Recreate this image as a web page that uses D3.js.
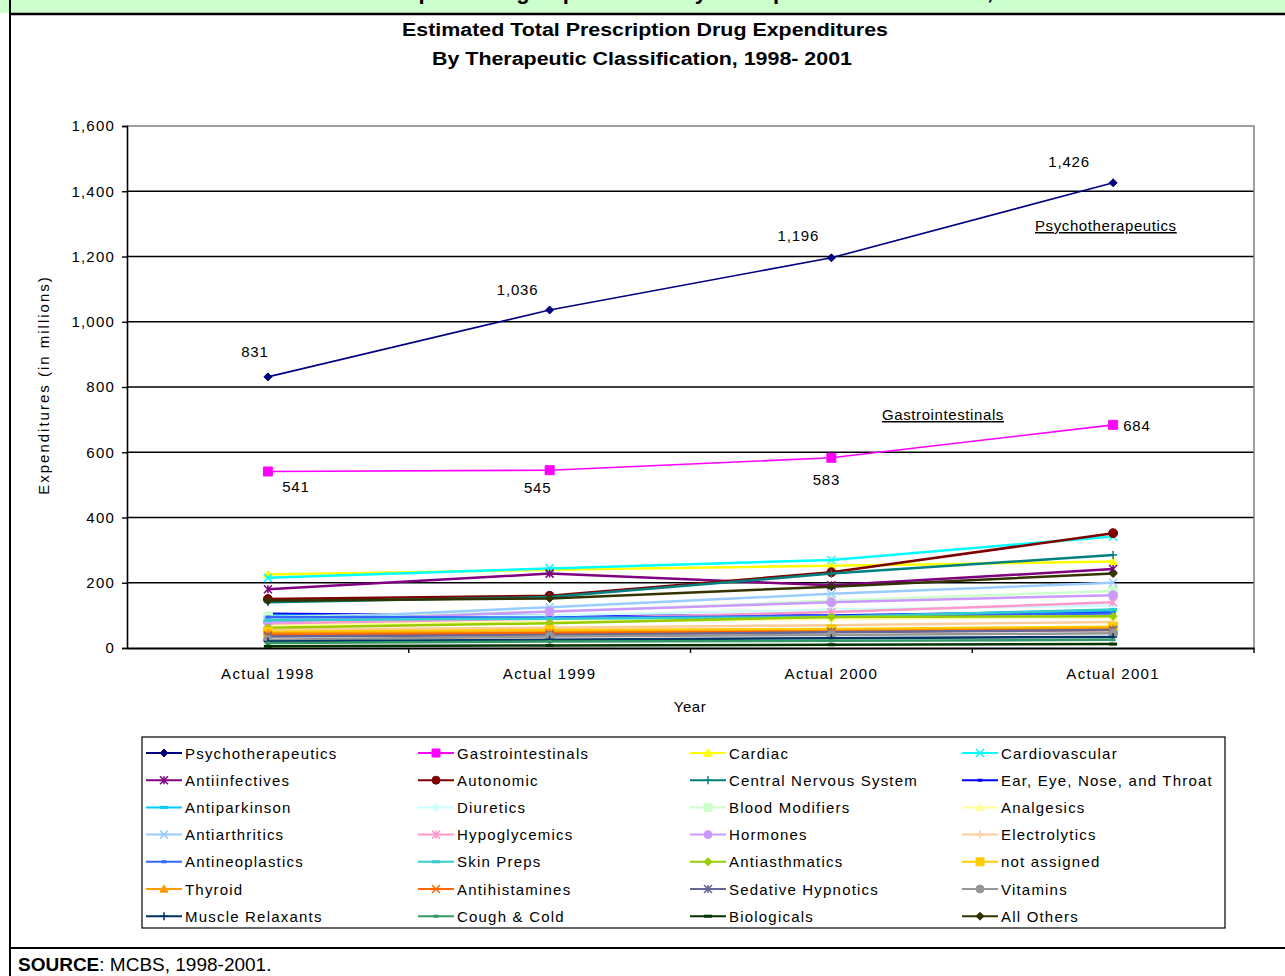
<!DOCTYPE html>
<html>
<head>
<meta charset="utf-8">
<script src="https://cdn.jsdelivr.net/npm/d3@7"></script>
<style>
  html, body { margin: 0; padding: 0; background: #fff; }
  svg { display: block; }
  text { font-family: Arial, "Liberation Sans", sans-serif; fill: #000; }
</style>
</head>
<body>
<svg id="chart" width="1285" height="976"></svg>
<script>
// ---- data ----
const categories = ["Actual 1998", "Actual 1999", "Actual 2000", "Actual 2001"];

const seriesNames = [
  "Psychotherapeutics", "Gastrointestinals", "Cardiac", "Cardiovascular",
  "Antiinfectives", "Autonomic", "Central Nervous System", "Ear, Eye, Nose, and Throat",
  "Antiparkinson", "Diuretics", "Blood Modifiers", "Analgesics",
  "Antiarthritics", "Hypoglycemics", "Hormones", "Electrolytics",
  "Antineoplastics", "Skin Preps", "Antiasthmatics", "not assigned",
  "Thyroid", "Antihistamines", "Sedative Hypnotics", "Vitamins",
  "Muscle Relaxants", "Cough & Cold", "Biologicals", "All Others"
];

// expenditures in millions, 1998-2001, same order as seriesNames
const seriesValues = [
  [831, 1036, 1196, 1426],
  [541, 545, 583, 684],
  [225, 240, 252, 265],
  [215, 244, 270, 342],
  [180, 228, 192, 242],
  [150, 160, 232, 352],
  [140, 156, 228, 285],
  [105, 98, 100, 112],
  [100, 92, 96, 116],
  [90, 100, 118, 130],
  [96, 110, 145, 175],
  [70, 80, 90, 95],
  [86, 125, 166, 200],
  [75, 90, 110, 140],
  [80, 112, 140, 162],
  [57, 62, 70, 80],
  [95, 93, 98, 106],
  [85, 90, 95, 118],
  [62, 76, 95, 97],
  [50, 55, 58, 65],
  [45, 48, 52, 60],
  [40, 45, 50, 55],
  [35, 40, 48, 55],
  [25, 35, 40, 45],
  [20, 25, 30, 34],
  [15, 20, 22, 25],
  [5, 8, 10, 12],
  [145, 152, 188, 228]
];

const yTicks = [0, 200, 400, 600, 800, 1000, 1200, 1400, 1600];

// series with printed values
const psychLabels = [831, 1036, 1196, 1426];
const gastroLabels = [541, 545, 583, 684];

// ---- styles ----
const colors = [
  "#000080", "#FF00FF", "#FFFF00", "#00FFFF", "#800080", "#800000", "#008080", "#0000FF",
  "#00CCFF", "#CCFFFF", "#CCFFCC", "#FFFF99", "#99CCFF", "#FF99CC", "#CC99FF", "#FFCC99",
  "#3366FF", "#33CCCC", "#99CC00", "#FFCC00", "#FF9900", "#FF6600", "#666699", "#969696",
  "#003366", "#339966", "#003300", "#333300"
];
const markerCycle = ["diamond", "square", "triangle", "x", "star", "circle", "plus", "dash", "longdash"];

function markerPath(type, s) {
  switch (type) {
    case "diamond": return `M0,${-s}L${s},0L0,${s}L${-s},0Z`;
    case "square": return `M${-s},${-s}H${s}V${s}H${-s}Z`;
    case "triangle": return `M0,${-s}L${s},${s * 0.8}L${-s},${s * 0.8}Z`;
    case "x": return `M${-s},${-s}L${s},${s}M${-s},${s}L${s},${-s}`;
    case "star": return `M${-s},${-s}L${s},${s}M${-s},${s}L${s},${-s}M0,${-s}V${s}`;
    case "circle": return d3.symbol(d3.symbolCircle, Math.PI * s * s)();
    case "plus": return `M${-s},0H${s}M0,${-s}V${s}`;
    case "dash": return `M${-s * 0.6},0H${s * 0.6}`;
    case "longdash": return `M${-s},0H${s}`;
  }
}
const filledMarkers = new Set(["diamond", "square", "triangle", "circle"]);

const svg = d3.select("#chart");

// ---- page frame: green caption band whose heading runs off the top ----
svg.append("rect").attr("x", 0).attr("y", 0).attr("width", 1285).attr("height", 13).attr("fill", "#CCFFCC");
const clip = svg.append("clipPath").attr("id", "headClip");
clip.append("rect").attr("x", 0).attr("y", 0).attr("width", 1285).attr("height", 13);
svg.append("text")
  .attr("clip-path", "url(#headClip)")
  .attr("x", 640).attr("y", -1)
  .attr("text-anchor", "middle")
  .style("font-size", "22px").style("font-weight", "bold")
  .text("Estimated Total Prescription Drug Expenditures by Therapeutic Classification, 1998-2001");
svg.append("line").attr("x1", 9).attr("x2", 1285).attr("y1", 14).attr("y2", 14).attr("stroke", "#000").attr("stroke-width", 2.5);
svg.append("line").attr("x1", 10).attr("x2", 10).attr("y1", 0).attr("y2", 976).attr("stroke", "#000").attr("stroke-width", 2);
svg.append("line").attr("x1", 9).attr("x2", 1285).attr("y1", 948).attr("y2", 948).attr("stroke", "#000").attr("stroke-width", 2);

const src = svg.append("text").attr("x", 18).attr("y", 971).style("font-size", "19px");
src.append("tspan").style("font-weight", "bold").text("SOURCE");
src.append("tspan").text(":  MCBS, 1998-2001.");

// ---- titles ----
svg.append("text").attr("x", 645).attr("y", 36).attr("text-anchor", "middle")
  .style("font-size", "18px").style("font-weight", "bold")
  .attr("textLength", 486).attr("lengthAdjust", "spacingAndGlyphs")
  .text("Estimated Total Prescription Drug Expenditures");
svg.append("text").attr("x", 642).attr("y", 65).attr("text-anchor", "middle")
  .style("font-size", "18px").style("font-weight", "bold")
  .attr("textLength", 420).attr("lengthAdjust", "spacingAndGlyphs")
  .text("By Therapeutic Classification, 1998- 2001");

// ---- scales ----
const plot = { left: 127, right: 1254, top: 126, bottom: 648 };
const x = d3.scaleBand().domain(categories).range([plot.left, plot.right]);
const cx = c => x(c) + x.bandwidth() / 2;
const y = d3.scaleLinear().domain([0, 1600]).range([plot.bottom, plot.top]);

// gridlines
svg.append("g").selectAll("line").data(yTicks.filter(d => d > 0 && d < 1600)).join("line")
  .attr("x1", plot.left).attr("x2", plot.right)
  .attr("y1", d => y(d)).attr("y2", d => y(d))
  .attr("stroke", "#000").attr("stroke-width", 1.6);

// plot area border (top and right)
svg.append("path")
  .attr("d", `M${plot.left},${plot.top}H${plot.right}V${plot.bottom}`)
  .attr("fill", "none").attr("stroke", "#808080").attr("stroke-width", 1.5);

// y axis
const yAxis = svg.append("g").attr("transform", `translate(${plot.left},0)`)
  .call(d3.axisLeft(y).tickValues(yTicks).tickFormat(d3.format(",")).tickSize(5).tickPadding(7));
yAxis.select(".domain").attr("stroke", "#000").attr("stroke-width", 1.6);
yAxis.selectAll(".tick line").attr("stroke", "#000").attr("stroke-width", 1.4);
yAxis.selectAll(".tick text")
  .style("font-size", "15px").style("letter-spacing", "1.2px")
  .style("font-family", "Arial, 'Liberation Sans', sans-serif").attr("fill", "#000");

// x axis: labels centred, ticks between categories
const xAxis = svg.append("g").attr("transform", `translate(0,${plot.bottom})`)
  .call(d3.axisBottom(x).tickSize(0).tickPadding(20));
xAxis.select(".domain").attr("stroke", "#000").attr("stroke-width", 1.8);
xAxis.selectAll(".tick text")
  .style("font-size", "15px").style("letter-spacing", "1.3px")
  .style("font-family", "Arial, 'Liberation Sans', sans-serif").attr("fill", "#000");
svg.append("g").selectAll("line").data(categories.slice(1).map(c => x(c)).concat([plot.right])).join("line")
  .attr("x1", d => d).attr("x2", d => d)
  .attr("y1", plot.bottom).attr("y2", plot.bottom + 5)
  .attr("stroke", "#000").attr("stroke-width", 1.4);

svg.append("text").attr("x", 690).attr("y", 712).attr("text-anchor", "middle")
  .style("font-size", "15px").style("letter-spacing", "0.5px").text("Year");
svg.append("text")
  .attr("transform", "translate(49,385) rotate(-90)")
  .attr("text-anchor", "middle")
  .style("font-size", "15px").style("letter-spacing", "2px")
  .text("Expenditures (in millions)");

// ---- series ----
const line = d3.line().x((d, i) => cx(categories[i])).y(d => y(d));
const seriesG = svg.append("g");
seriesNames.forEach((name, si) => {
  const vals = seriesValues[si];
  const col = colors[si];
  const mk = markerCycle[si % markerCycle.length];
  const g = seriesG.append("g");
  g.append("path").datum(vals).attr("d", line)
    .attr("fill", "none").attr("stroke", col)
    .attr("stroke-width", si < 2 ? 1.6 : 2.5);
  const s = mk === "square" ? 4.5 : mk === "circle" ? 4.5 : 4;
  g.selectAll("path.m").data(vals).join("path").attr("class", "m")
    .attr("transform", (d, i) => `translate(${cx(categories[i])},${y(d)})`)
    .attr("d", markerPath(mk, s))
    .attr("fill", filledMarkers.has(mk) ? col : "none")
    .attr("stroke", col)
    .attr("stroke-width", filledMarkers.has(mk) ? 1 : (mk === "dash" || mk === "longdash" ? 3 : 1.5));
});

// ---- value labels ----
const psychOffsets = [[-13, -20], [-32, -15], [-33, -17], [-44, -16]];
svg.append("g").selectAll("text").data(psychLabels).join("text")
  .attr("x", (d, i) => cx(categories[i]) + psychOffsets[i][0])
  .attr("y", (d, i) => y(d) + psychOffsets[i][1])
  .attr("text-anchor", "middle")
  .style("font-size", "15px").style("letter-spacing", "0.8px")
  .text(d3.format(","));
const gastroOffsets = [[28, 21], [-12, 23], [-5, 27]];
svg.append("g").selectAll("text").data(gastroLabels.slice(0, 3)).join("text")
  .attr("x", (d, i) => cx(categories[i]) + gastroOffsets[i][0])
  .attr("y", (d, i) => y(d) + gastroOffsets[i][1])
  .attr("text-anchor", "middle")
  .style("font-size", "15px").style("letter-spacing", "0.8px")
  .text(d3.format(","));
svg.append("text")
  .attr("x", cx(categories[3]) + 10).attr("y", y(gastroLabels[3]) + 6)
  .style("font-size", "15px").style("letter-spacing", "0.8px")
  .text(gastroLabels[3]);

// underlined series annotations
svg.append("text").attr("x", 1035).attr("y", 231)
  .style("font-size", "15px").style("letter-spacing", "0.6px")
  .style("text-decoration", "underline")
  .text(seriesNames[0]);
svg.append("text").attr("x", 882).attr("y", 420)
  .style("font-size", "15px").style("letter-spacing", "0.6px")
  .style("text-decoration", "underline")
  .text(seriesNames[1]);

// ---- legend ----
const legend = { left: 142, top: 737, width: 1083, height: 191 };
svg.append("rect")
  .attr("x", legend.left).attr("y", legend.top)
  .attr("width", legend.width).attr("height", legend.height)
  .attr("fill", "#fff").attr("stroke", "#000").attr("stroke-width", 1.2);
const colX = [146, 418, 690, 962];
const rowY0 = 753, rowStep = 27.2;
const lg = svg.append("g");
seriesNames.forEach((name, si) => {
  const col = colors[si];
  const mk = markerCycle[si % markerCycle.length];
  const lx = colX[si % 4], ly = rowY0 + Math.floor(si / 4) * rowStep;
  const g = lg.append("g").attr("transform", `translate(${lx},${ly})`);
  g.append("line").attr("x1", 0).attr("x2", 36).attr("y1", 0).attr("y2", 0)
    .attr("stroke", col).attr("stroke-width", 2);
  g.append("path").attr("transform", "translate(18,0)")
    .attr("d", markerPath(mk, 4))
    .attr("fill", filledMarkers.has(mk) ? col : "none")
    .attr("stroke", col)
    .attr("stroke-width", filledMarkers.has(mk) ? 1 : (mk === "dash" || mk === "longdash" ? 3 : 1.5));
  g.append("text").attr("x", 39).attr("y", 5.5)
    .style("font-size", "15px").style("letter-spacing", "1.2px")
    .text(name);
});
</script>
</body>
</html>
